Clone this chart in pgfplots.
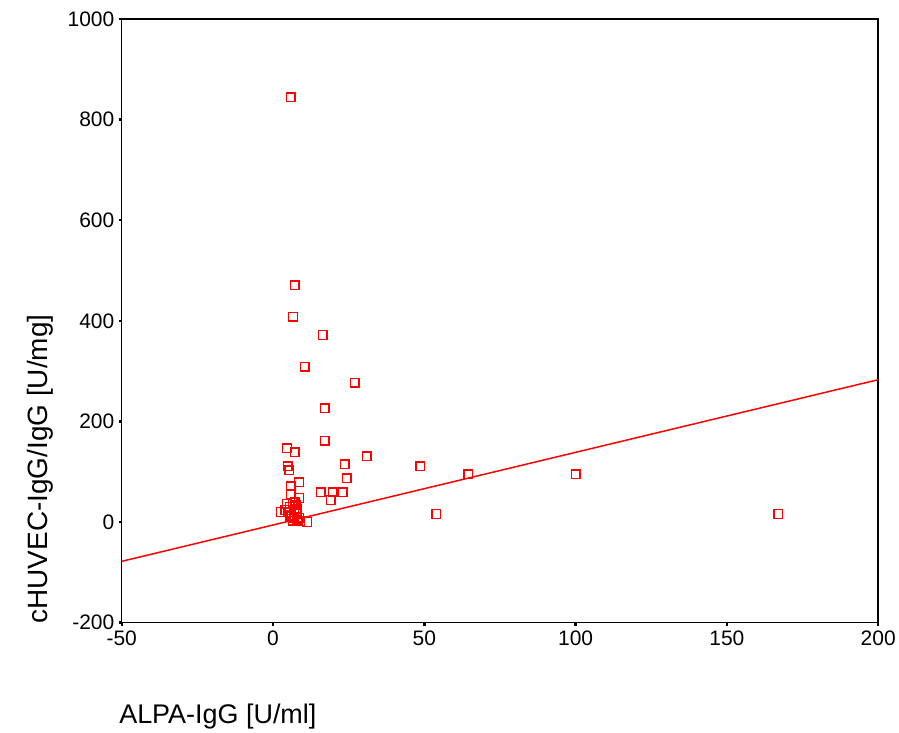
\documentclass[border=0pt]{standalone}
\usepackage{fontspec}
\setmainfont{Liberation Sans}
\usepackage{pgfplots}
\pgfplotsset{compat=1.18}
\begin{document}
\begin{tikzpicture}[x=1pt,y=1pt]
\path (0,0) rectangle (899,729);
\begin{axis}[
  at={(122pt,105pt)}, anchor=south west,
  scale only axis, width=758pt, height=605pt,
  xmin=-50, xmax=200, ymin=-200, ymax=1000,
  xtick={-50,0,50,100,150,200},
  ytick={-200,0,200,400,600,800,1000},
  tick align=outside,
  xtick pos=bottom, ytick pos=left,
  major tick length=3pt,
  every tick/.style={black, line width=2.5pt},
  axis line style={black, line width=1.4pt},
  tick label style={font=\fontsize{21}{23}\selectfont},
  yticklabel style={xshift=-1pt},
  xticklabel style={yshift=-2pt},
  /pgf/number format/assume math mode=true,
  /pgf/number format/1000 sep={},
  clip=false,
]
\addplot[only marks, mark=square*, mark size=4.3pt, draw=red, fill=white, mark options={draw=red, fill=white, fill opacity=0, line width=1.4pt}] coordinates {
(5.9,844) (7.2,471) (6.6,408) (16.4,372) (10.5,309) (27,277) (17.1,226) (17.1,162)
(30.9,131) (4.6,147) (7.2,139) (4.8,111) (5.4,103) (23.7,115) (48.7,111) (24.3,87)
(5.9,71) (64.5,95) (100,95) (5.9,55) (15.8,59) (19.7,59) (23,59) (19,44)
(8.6,79) (8.6,48) (7.2,40) (4.6,36) (2.6,20) (11.2,0) (54,16) (167,16)
(5.5,30) (6.5,38) (7.5,33) (8,27) (5,20) (6,14) (7,9) (8,5) (8.7,9) (9,2) (7,24) (5.5,11) (4,24) (6.5,3) (7.8,18)
};
\addplot[red, line width=1.5pt, no marks] coordinates {(-50,-78) (200,283)};
\end{axis}
\node[anchor=west, font=\fontsize{27}{30}\selectfont] at (116,11) {ALPA-IgG [U/ml]};
\node[rotate=90, font=\fontsize{28}{30}\selectfont] at (40,259) {cHUVEC-IgG/IgG [U/mg]};
\end{tikzpicture}
\end{document}
